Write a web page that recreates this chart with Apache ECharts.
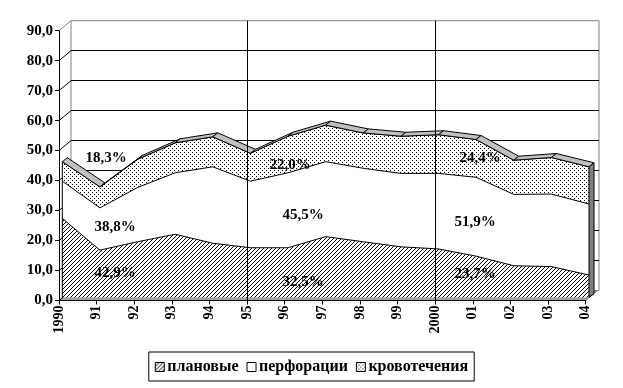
<!DOCTYPE html>
<html><head><meta charset="utf-8">
<script src="https://cdn.jsdelivr.net/npm/echarts@6/dist/echarts.min.js"></script>
<style>html,body{margin:0;padding:0;background:#fff}#c{width:623px;height:388px}</style>
</head><body><div id="c"></div>
<script>
// ---- data ----
const categories = ['1990','91','92','93','94','95','96','97','98','99','2000','01','02','03','04'];
const planned      = [26.4,15.8,18.6,21.1,18.1,16.6,16.6,20.3,18.6,16.9,16.2,13.8,10.6,10.3,7.5];
const perforations = [12.4,14.1,18.1,20.5,25.5,22.2,25.0,25.0,24.5,24.5,25.2,26.3,23.8,24.2,23.7];
const bleeding     = [6.5,7.0,9.4,10.0,10.0,9.3,12.2,12.2,11.8,12.4,12.9,12.6,11.4,12.2,12.4];
const seriesNames  = ['плановые','перфорации','кровотечения'];
const yTicks       = [0,10,20,30,40,50,60,70,80,90];
const shareLabels  = ['18,3%','38,8%','42,9%','22,0%','45,5%','32,5%','24,4%','51,9%','23,7%'];

// ---- styling helpers ----
const FONT = 'Liberation Serif';
function makePattern(draw){
  const c=document.createElement('canvas'); c.width=4; c.height=4;
  const g=c.getContext('2d'); g.fillStyle='#fff'; g.fillRect(0,0,4,4); g.fillStyle='#000'; draw(g); return c;
}
const hatch = makePattern(g=>{g.fillRect(3,0,1,1);g.fillRect(2,1,1,1);g.fillRect(1,2,1,1);g.fillRect(0,3,1,1);});
const dots  = makePattern(g=>{g.fillRect(0,0,1,1);g.fillRect(2,2,1,1);});
const fills = [{image:hatch,repeat:'repeat'}, '#ffffff', {image:dots,repeat:'repeat'}];
const values = [planned, perforations, bleeding];
const totals = planned.map((v,i)=>v+perforations[i]+bleeding[i]);
const n = categories.length;
const D = [5,-4];     // series depth
const W = [12,-10];   // wall depth

// label anchor positions (pixels)
const labelPos = [[106,158],[115,227],[115,273],[290,165],[303,215],[303,282],[480,158],[475,222],[475,274]];

const chart = echarts.init(document.getElementById('c'), null, {renderer:'canvas'});
const axisFont = {fontFamily:FONT, fontWeight:'bold', fontSize:14, color:'#000'};

const option = {
  animation:false,
  backgroundColor:'#fff',
  grid:[
    {left:59, right:37.3, top:30.7, bottom:87.5},
    {left:71, right:24, top:20.7, bottom:97.5, show:true, borderColor:'#808080', borderWidth:1, backgroundColor:'#fff'},
    {left:62.3, right:34, top:27.7, bottom:90.5},
    {left:59, right:37.3, top:20.7, bottom:87.5}
  ],
  xAxis:[
    {gridIndex:0, type:'category', data:categories, boundaryGap:false, z:5,
     axisLine:{lineStyle:{color:'#000',width:1}}, axisTick:{length:4,lineStyle:{color:'#000'}},
     axisLabel:Object.assign({rotate:90, margin:5, interval:0}, axisFont), splitLine:{show:false}},
    {gridIndex:1, type:'category', data:categories, boundaryGap:false, show:false},
    {gridIndex:2, type:'category', data:categories, boundaryGap:false, show:false},
    {gridIndex:3, type:'category', data:categories, boundaryGap:false, z:6,
     axisLine:{show:false}, axisTick:{show:false}, axisLabel:{show:false},
     splitLine:{show:true, interval:(i)=>i===5||i===10, lineStyle:{color:'#000',width:1}}}
  ],
  yAxis:[
    {gridIndex:0, type:'value', min:0, max:90, interval:10, z:5,
     axisLine:{show:true,lineStyle:{color:'#000'}}, axisTick:{show:true,length:4,lineStyle:{color:'#000'}},
     axisLabel:Object.assign({margin:6, formatter:v=>v.toFixed(1).replace('.',',')}, axisFont, {fontSize:15}),
     splitLine:{show:false}},
    {gridIndex:1, type:'value', min:0, max:90, interval:10,
     axisLine:{show:false}, axisTick:{show:false}, axisLabel:{show:false},
     splitLine:{show:true, showMinLine:false, showMaxLine:false, lineStyle:{color:'#000',width:1}}},
    {gridIndex:2, type:'value', min:0, max:90, interval:10, show:false, splitLine:{show:false}},
    {gridIndex:3, type:'value', min:0, max:90, show:false, splitLine:{show:false}}
  ],
  legend:{
    left:'center', top:352, orient:'horizontal',
    borderColor:'#000', borderWidth:1, padding:[7,6,6,6], itemGap:8,
    itemWidth:9, itemHeight:9, icon:'rect',
    textStyle:{fontFamily:FONT, fontWeight:'bold', fontSize:16, color:'#000', padding:[0,0,0,-2]},
    data: seriesNames.map((nm,k)=>({name:nm, icon:'rect', itemStyle:{color:fills[k], borderColor:'#000', borderWidth:1}}))
  },
  series:[
    {type:'custom', xAxisIndex:0, yAxisIndex:0, z:1, silent:true, data:[[0,0]],
     renderItem:function(params, api){
       const ch=[];
       const f0=api.coord([0,0]), f1=api.coord([n-1,0]);
       ch.push({type:'polygon', shape:{points:[f0,f1,[f1[0]+W[0],f1[1]+W[1]],[f0[0]+W[0],f0[1]+W[1]]]},
                style:{fill:'#a0a0a0', stroke:'#808080', lineWidth:1}});
       yTicks.forEach(v=>{
         const p=api.coord([0,v]);
         ch.push({type:'line', shape:{x1:p[0],y1:p[1],x2:p[0]+W[0],y2:p[1]+W[1]},
                  style:{stroke:(v===90?'#808080':'#000'), lineWidth:1}});
       });
       return {type:'group', children:ch};
     }},
    ...seriesNames.map((nm,k)=>({
      name:nm, type:'line', stack:'total', xAxisIndex:2, yAxisIndex:2, z:2,
      data:values[k], symbol:'none', smooth:false,
      lineStyle:{color:'#000', width:1},
      itemStyle:{color:fills[k], borderColor:'#000'},
      areaStyle:{color:fills[k], opacity:1}
    })),
    {type:'custom', xAxisIndex:2, yAxisIndex:2, z:3, silent:true,
     data: totals.map((t,i)=>[i,t]),
     renderItem:function(params, api){
       const i=api.value(0);
       const ch=[];
       const p0=api.coord([i, totals[i]]);
       if(i<n-1){
         const p1=api.coord([i+1, totals[i+1]]);
         ch.push({type:'polygon', shape:{points:[p0,p1,[p1[0]+D[0],p1[1]+D[1]],[p0[0]+D[0],p0[1]+D[1]]]},
                  style:{fill:'#c0c0c0', stroke:'#000', lineWidth:1}});
       } else {
         const b=api.coord([i,0]);
         ch.push({type:'polygon', shape:{points:[p0,b,[b[0]+D[0],b[1]+D[1]],[p0[0]+D[0],p0[1]+D[1]]]},
                  style:{fill:'#808080', stroke:'#000', lineWidth:1}});
       }
       if(i===0){
         const b=api.coord([0,0]);
         ch.push({type:'line', shape:{x1:b[0],y1:b[1],x2:p0[0],y2:p0[1]}, style:{stroke:'#000',lineWidth:1}});
       }
       return {type:'group', children:ch};
     }}
  ],
  graphic: shareLabels.map((t,k)=>({
    type:'text', x:labelPos[k][0], y:labelPos[k][1], z:10,
    style:{text:t, fill:'#000', font:'bold 15px "'+FONT+'"', textAlign:'center', textVerticalAlign:'middle'}
  }))
};
chart.setOption(option);
</script>
</body></html>
